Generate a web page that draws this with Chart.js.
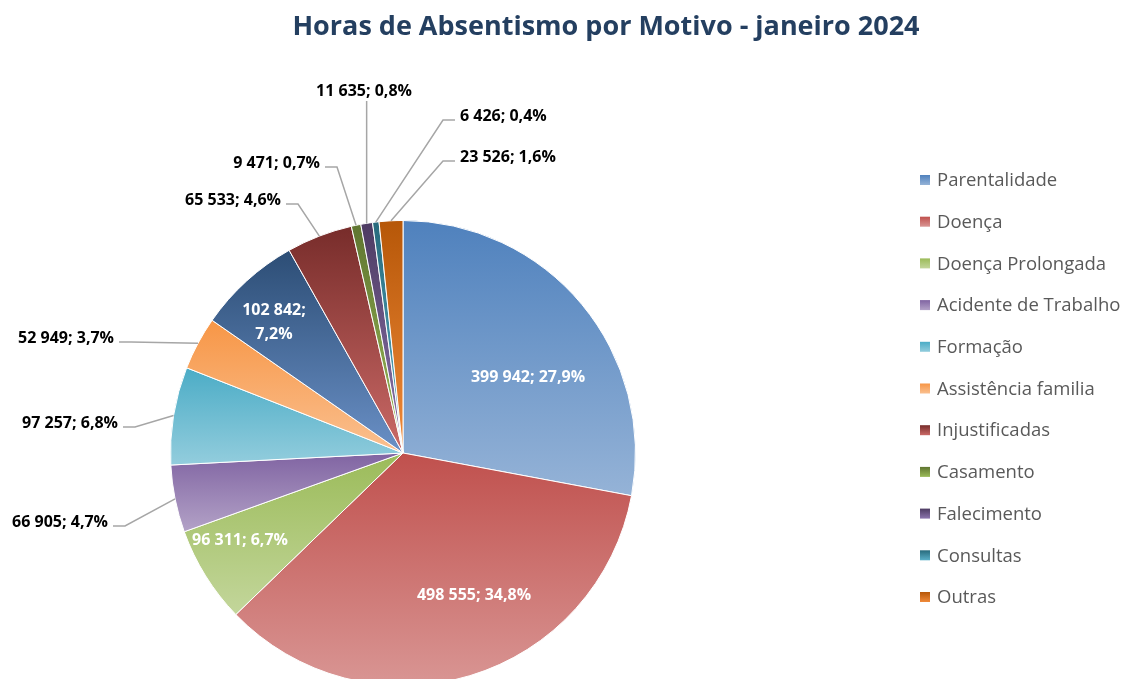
<!DOCTYPE html>
<html lang="pt">
<head>
<meta charset="UTF-8" />
<title>Horas de Absentismo por Motivo</title>
<script src="https://cdn.jsdelivr.net/npm/chart.js"></script>
<style>
    html, body { margin: 0; padding: 0; background: #fff; overflow: hidden; }
    #wrap { position: absolute; left: 0; top: 0; width: 1129px; height: 720px; }
</style>
</head>
<body>
<div id="wrap">
    <canvas id="absPie" width="1129" height="720"></canvas>
</div>

<script>
    // Data (clockwise from 12 o'clock)
    const motivos = ['Parentalidade', 'Doença', 'Doença Prolongada', 'Acidente de Trabalho', 'Formação',
        'Assistência familia', 'Outros motivos', 'Injustificadas', 'Casamento', 'Falecimento', 'Consultas', 'Outras'];
    const horas = [399942, 498555, 96311, 66905, 97257, 52949, 102842, 65533, 9471, 11635, 6426, 23526];

    // slice 6 has no entry in the original legend
    const legendSkip = [6];

    // gradient colours (top -> bottom of each slice)
    const corTopo = ['#4F81BD', '#C0504D', '#9BBB59', '#8064A2', '#4BACC6', '#F79646',
        '#2C4D75', '#772C2A', '#5F7530', '#4D3B62', '#276A7C', '#B65708'];
    const corBase = ['#95B3D7', '#D99694', '#C3D69B', '#B3A2C7', '#93CDDD', '#FAC090',
        '#6A90C6', '#CB6A67', '#9BBB59', '#8C75AE', '#5BB0C8', '#F08A3A'];

    // label placement, offsets from pie centre
    const labelPos = [[125, -76], [71, 142], [-163, 87], null, null, null,
        [-129, -131], null, null, null, null, null];
    const labelOut = [null, null, null, [-295, 69, 'L'], [-285, -30, 'L'], [-289, -115, 'L'],
        null, [-122, -253, 'L'], [-83, -290, 'L'], [-39, -362, 'T'], [57, -337, 'R'], [57, -296, 'R']];

    const total = horas.reduce((a, b) => a + b, 0);

    function fmtNum(n) {
        return String(n).replace(/\B(?=(\d{3})+(?!\d))/g, ' ');
    }
    function fmtPct(n) {
        return (n / total * 100).toFixed(1).replace('.', ',') + '%';
    }

    function sliceFill(context) {
        const chart = context.chart;
        const area = chart.chartArea;
        const i = context.dataIndex;
        if (!area || i === undefined) return corTopo[i] || '#ccc';
        const cx = (area.left + area.right) / 2;
        const cy = (area.top + area.bottom) / 2;
        const r = Math.min(area.width, area.height) / 2;
        let before = 0;
        for (let k = 0; k < i; k++) before += horas[k];
        const a0 = -Math.PI / 2 + before / total * Math.PI * 2;
        const a1 = a0 + horas[i] / total * Math.PI * 2;
        const ys = [cy, cy + r * Math.sin(a0), cy + r * Math.sin(a1)];
        [-Math.PI / 2, Math.PI / 2, Math.PI * 1.5].forEach(k => {
            if (k >= a0 && k <= a1) ys.push(cy + r * Math.sin(k));
        });
        const y0 = Math.min(...ys), y1 = Math.max(...ys);
        const g = chart.ctx.createLinearGradient(0, y0, 0, y1 + 0.01);
        g.addColorStop(0, corTopo[i]);
        g.addColorStop(1, corBase[i]);
        return g;
    }

    // title, data labels with leader lines and the legend
    const decoracao = {
        id: 'decoracao',
        afterDraw(chart) {
            const ctx = chart.ctx;
            const meta = chart.getDatasetMeta(0);
            const cx = meta.data[0].x, cy = meta.data[0].y;
            ctx.save();

            // title
            ctx.fillStyle = '#243F60';
            ctx.font = 'bold 27px "Open Sans"';
            ctx.textAlign = 'center';
            ctx.textBaseline = 'middle';
            ctx.fillText('Horas de Absentismo por Motivo - janeiro 2024', 606, 27);

            ctx.font = 'bold 16px "Open Sans"';
            meta.data.forEach((arc, i) => {
                const txt = fmtNum(horas[i]) + '; ' + fmtPct(horas[i]);
                if (labelPos[i]) {
                    const [dx, dy] = labelPos[i];
                    ctx.fillStyle = '#fff';
                    ctx.textAlign = 'center';
                    ctx.textBaseline = 'middle';
                    if (i === 6) {
                        ctx.fillText(fmtNum(horas[i]) + ';', cx + dx, cy + dy - 12);
                        ctx.fillText(fmtPct(horas[i]), cx + dx, cy + dy + 12);
                    } else {
                        ctx.fillText(txt, cx + dx, cy + dy);
                    }
                    return;
                }
                const o = labelOut[i];
                if (!o) return;
                const mid = (arc.startAngle + arc.endAngle) / 2;
                const ex = cx + Math.cos(mid) * arc.outerRadius;
                const ey = cy + Math.sin(mid) * arc.outerRadius;
                const tx = cx + o[0], ty = cy + o[1];
                ctx.strokeStyle = '#A6A6A6';
                ctx.lineWidth = 1.5;
                ctx.beginPath();
                if (o[2] === 'T') {
                    ctx.moveTo(ex, ty + 10);
                    ctx.lineTo(ex, ey);
                } else if (o[2] === 'L') {
                    ctx.moveTo(tx + 5, ty + 4);
                    ctx.lineTo(tx + 17, ty + 4);
                    ctx.lineTo(ex, ey);
                } else {
                    ctx.moveTo(tx - 5, ty + 4);
                    ctx.lineTo(tx - 17, ty + 4);
                    ctx.lineTo(ex, ey);
                }
                ctx.stroke();
                ctx.fillStyle = '#000';
                ctx.textBaseline = 'middle';
                ctx.textAlign = o[2] === 'L' ? 'right' : (o[2] === 'R' ? 'left' : 'center');
                ctx.fillText(txt, tx, ty);
            });

            // legend
            ctx.font = '18.5px "Open Sans"';
            ctx.textAlign = 'left';
            ctx.textBaseline = 'middle';
            let row = 0;
            motivos.forEach((m, i) => {
                if (legendSkip.includes(i)) return;
                const y = 180 + row * 41.7;
                const g = ctx.createLinearGradient(0, y - 5, 0, y + 5);
                g.addColorStop(0, corTopo[i]);
                g.addColorStop(1, corBase[i]);
                ctx.fillStyle = g;
                ctx.fillRect(920, y - 5, 10, 10);
                ctx.fillStyle = '#595959';
                ctx.fillText(m, 937, y + 1);
                row++;
            });
            ctx.restore();
        }
    };

    new Chart(document.getElementById('absPie').getContext('2d'), {
        type: 'pie',
        data: {
            labels: motivos,
            datasets: [{
                data: horas,
                backgroundColor: sliceFill,
                borderColor: '#fff',
                borderWidth: 1
            }]
        },
        options: {
            responsive: false,
            devicePixelRatio: 1,
            animation: false,
            layout: { padding: { left: 170, right: 493, top: 220, bottom: 34 } },
            plugins: {
                legend: { display: false },
                title: { display: false },
                tooltip: { enabled: false }
            }
        },
        plugins: [decoracao]
    });
</script>
</body>
</html>
